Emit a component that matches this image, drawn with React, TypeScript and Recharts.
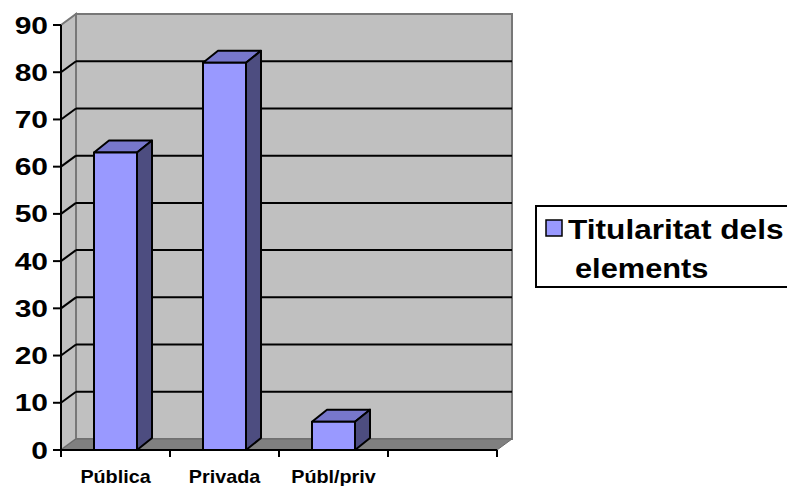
import { BarChart, Bar, XAxis, YAxis, CartesianGrid, Legend } from 'recharts';

const categories = ['Pública', 'Privada', 'Públ/priv', ''];
const titularitat = [63, 82, 6, null];
const yTicks = [0, 10, 20, 30, 40, 50, 60, 70, 80, 90];
const seriesName = 'Titularitat dels elements';

const data = categories.map((name, i) => ({ name, value: titularitat[i] }));

const FONT = '"Liberation Sans", Arial, sans-serif';
// depth of the fake 3D box
const DX = 15;
const DY = 11;

function gridLine(props: any) {
  const { x1, x2, y1, index, horizontalPoints } = props;
  const pts: number[] = horizontalPoints || [y1];
  const top = props.y ?? Math.min(...pts);
  const bottom = props.height != null ? props.y + props.height : Math.max(...pts);
  const left = x1;
  const right = x2;
  const edge = Math.abs(y1 - top) < 0.5 || Math.abs(y1 - bottom) < 0.5;
  return (
    <g key={`hl-${index}`}>
      {index === 0 && (
        <g>
          <polygon
            points={`${left},${top} ${left + DX},${top - DY} ${left + DX},${bottom - DY} ${left},${bottom}`}
            fill="#C0C0C0"
            stroke="#777"
            strokeWidth={2}
          />
          <rect x={left + DX} y={top - DY} width={right - left} height={bottom - top} fill="#C0C0C0" stroke="#777" strokeWidth={2} />
          <polygon
            points={`${left},${bottom} ${right},${bottom} ${right + DX},${bottom - DY} ${left + DX},${bottom - DY}`}
            fill="#808080"
            stroke="#6a6a6a"
            strokeWidth={1}
          />
        </g>
      )}
      {!edge && (
        <g>
          <line x1={left} y1={y1} x2={left + DX} y2={y1 - DY} stroke="#000" strokeWidth={2} />
          <line x1={left + DX} y1={y1 - DY} x2={right + DX} y2={y1 - DY} stroke="#000" strokeWidth={2} />
        </g>
      )}
    </g>
  );
}

function Box3D(props: any) {
  const { x, y, width, height, value } = props;
  if (value == null || !isFinite(height)) return <g />;
  const d = 15;
  const e = 12;
  return (
    <g stroke="#000" strokeWidth={2} strokeLinejoin="round">
      <polygon points={`${x},${y} ${x + d},${y - e} ${x + width + d},${y - e} ${x + width},${y}`} fill="#7777CC" />
      <polygon points={`${x + width},${y} ${x + width + d},${y - e} ${x + width + d},${y + height - e} ${x + width},${y + height}`} fill="#4D4D80" />
      <rect x={x} y={y} width={width} height={height} fill="#9999FF" />
    </g>
  );
}

function YTick(props: any) {
  const { x, y, payload } = props;
  return (
    <g transform={`translate(${x},${y}) scale(1.25,1)`}>
      <text x={0} y={8.5} textAnchor="end" fontFamily={FONT} fontWeight="bold" fontSize={24} fill="#000">
        {payload.value}
      </text>
    </g>
  );
}

function XTick(props: any) {
  const { x, y, payload, index, visibleTicksCount } = props;
  const half = payload?.offset || props.width / visibleTicksCount / 2;
  const axisY = y - 7;
  return (
    <g>
      <line x1={x - half} y1={axisY} x2={x - half} y2={axisY + 7} stroke="#000" strokeWidth={2} />
      {index === visibleTicksCount - 1 && (
        <line x1={x + half} y1={axisY} x2={x + half} y2={axisY + 7} stroke="#000" strokeWidth={2} />
      )}
      <g transform={`translate(${x},${axisY + 33}) scale(1.04,1)`}>
        <text x={0} y={0} textAnchor="middle" fontFamily={FONT} fontWeight="bold" fontSize={19} fill="#000">
          {payload.value}
        </text>
      </g>
    </g>
  );
}

function LegendBox() {
  const words = seriesName.split(' ');
  return (
    <svg width={262} height={84} style={{ display: 'block', overflow: 'visible' }}>
      <rect x={1} y={1} width={262} height={81} fill="#fff" stroke="#000" strokeWidth={2} />
      <rect x={11} y={15} width={16} height={16} fill="#9999FF" stroke="#000" strokeWidth={1.5} />
      <g transform="translate(33,34) scale(1.13,1)">
        <text fontFamily={FONT} fontWeight="bold" fontSize={28} fill="#000">
          {words.slice(0, 2).join(' ')}
        </text>
      </g>
      <g transform="translate(40,73) scale(1.1,1)">
        <text fontFamily={FONT} fontWeight="bold" fontSize={28} fill="#000">
          {words.slice(2).join(' ')}
        </text>
      </g>
    </svg>
  );
}

export default function App() {
  return (
    <div style={{ width: 787, height: 486, overflow: 'hidden', position: 'relative', background: '#fff' }}>
      <style>{'body{margin:0}'}</style>
      <BarChart width={787} height={486} data={data} margin={{ top: 25, right: 290, bottom: 0, left: 0 }}>
        <CartesianGrid vertical={false} horizontal={gridLine} />
        <Bar dataKey="value" name={seriesName} barSize={43} shape={Box3D} isAnimationActive={false} />
        <XAxis
          dataKey="name"
          height={36}
          interval={0}
          axisLine={{ stroke: '#000', strokeWidth: 2 }}
          tickLine={false}
          tickSize={7}
          tickMargin={0}
          tick={XTick}
        />
        <YAxis
          width={61}
          domain={[0, 90]}
          ticks={yTicks}
          interval={0}
          axisLine={{ stroke: '#000', strokeWidth: 2 }}
          tickLine={{ stroke: '#000', strokeWidth: 2 }}
          tickSize={8}
          tickMargin={5}
          tick={YTick}
        />
        <Legend
          layout="horizontal"
          verticalAlign="middle"
          align="center"
          wrapperStyle={{ left: 535, top: 205, width: 262, height: 84 }}
          content={() => <LegendBox />}
        />
      </BarChart>
    </div>
  );
}
